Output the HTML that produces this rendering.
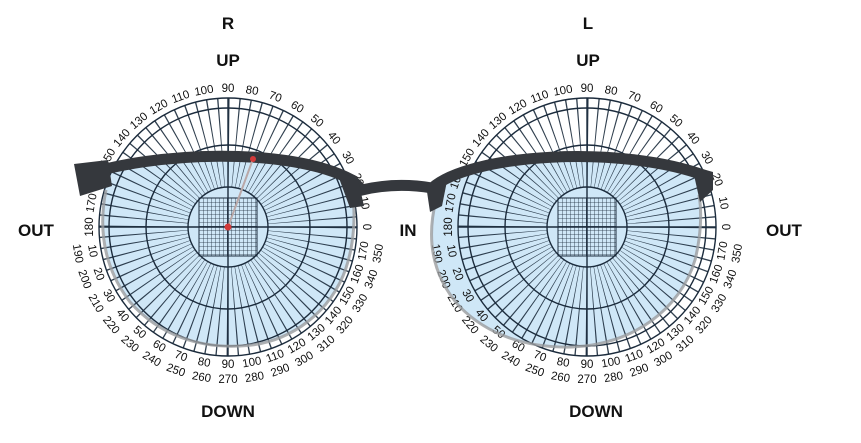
<!DOCTYPE html>
<html><head><meta charset="utf-8"><style>
html,body{margin:0;padding:0;background:#fff;}
svg{display:block;}
text{font-family:"Liberation Sans",sans-serif;}
.l text{font-size:11.5px;text-anchor:middle;dominant-baseline:central;fill:#111;}
.b{font-weight:bold;font-size:17px;text-anchor:middle;fill:#111;}
</style></head><body>
<svg width="861" height="443" viewBox="0 0 861 443" xmlns="http://www.w3.org/2000/svg">
<defs>
<pattern id="grid" x="-29" y="-29" width="4" height="4" patternUnits="userSpaceOnUse">
<path d="M0,0H4M0,0V4" stroke="#1b2b3c" stroke-width="0.8" fill="none"/>
</pattern>
<g id="eye">
<circle r="84.5" fill="none" stroke="#1b2b3c" stroke-width="89" stroke-dasharray="0.9 6.474" opacity="0.9"/>
<g fill="none" stroke="#1b2b3c" stroke-width="1.4">
<circle r="129"/><circle r="119"/><circle r="82"/><circle r="40"/>
<line x1="-129" y1="0" x2="129" y2="0"/><line x1="0" y1="-129" x2="0" y2="129"/>
</g>
<rect x="-29" y="-29" width="58" height="58" fill="url(#grid)" stroke="#1b2b3c" stroke-width="1"/>
<g class="l">
<text transform="rotate(90)" y="-138">0</text>
<text transform="rotate(80)" y="-138">10</text>
<text transform="rotate(70)" y="-138">20</text>
<text transform="rotate(60)" y="-138">30</text>
<text transform="rotate(50)" y="-138">40</text>
<text transform="rotate(40)" y="-138">50</text>
<text transform="rotate(30)" y="-138">60</text>
<text transform="rotate(20)" y="-138">70</text>
<text transform="rotate(10)" y="-138">80</text>
<text transform="rotate(0)" y="-138">90</text>
<text transform="rotate(-10)" y="-138">100</text>
<text transform="rotate(-20)" y="-138">110</text>
<text transform="rotate(-30)" y="-138">120</text>
<text transform="rotate(-40)" y="-138">130</text>
<text transform="rotate(-50)" y="-138">140</text>
<text transform="rotate(-60)" y="-138">150</text>
<text transform="rotate(-70)" y="-138">160</text>
<text transform="rotate(-80)" y="-138">170</text>
<text transform="rotate(-90)" y="-138">180</text>
<text transform="rotate(80)" y="138">10</text>
<text transform="rotate(70)" y="138">20</text>
<text transform="rotate(60)" y="138">30</text>
<text transform="rotate(50)" y="138">40</text>
<text transform="rotate(40)" y="138">50</text>
<text transform="rotate(30)" y="138">60</text>
<text transform="rotate(20)" y="138">70</text>
<text transform="rotate(10)" y="138">80</text>
<text transform="rotate(0)" y="138">90</text>
<text transform="rotate(-10)" y="138">100</text>
<text transform="rotate(-20)" y="138">110</text>
<text transform="rotate(-30)" y="138">120</text>
<text transform="rotate(-40)" y="138">130</text>
<text transform="rotate(-50)" y="138">140</text>
<text transform="rotate(-60)" y="138">150</text>
<text transform="rotate(-70)" y="138">160</text>
<text transform="rotate(-80)" y="138">170</text>
<text transform="rotate(80)" y="153">190</text>
<text transform="rotate(70)" y="153">200</text>
<text transform="rotate(60)" y="153">210</text>
<text transform="rotate(50)" y="153">220</text>
<text transform="rotate(40)" y="153">230</text>
<text transform="rotate(30)" y="153">240</text>
<text transform="rotate(20)" y="153">250</text>
<text transform="rotate(10)" y="153">260</text>
<text transform="rotate(0)" y="153">270</text>
<text transform="rotate(-10)" y="153">280</text>
<text transform="rotate(-20)" y="153">290</text>
<text transform="rotate(-30)" y="153">300</text>
<text transform="rotate(-40)" y="153">310</text>
<text transform="rotate(-50)" y="153">320</text>
<text transform="rotate(-60)" y="153">330</text>
<text transform="rotate(-70)" y="153">340</text>
<text transform="rotate(-80)" y="153">350</text>
</g>
</g>
</defs>

<path d="M108,165 C98,205 100,262 130,302 C160,336 200,348 240,346 C292,344 332,310 346,268 C356,238 356,200 350,180 C290,152 170,150 108,165 Z" fill="#cfe7f7"/>
<path d="M440,176 C425,222 430,272 460,307 C490,337 530,348 572,347 C632,345 680,310 695,260 C703,230 701,200 695,172 C630,150 500,150 440,176 Z" fill="#cfe7f7"/>

<use href="#eye" transform="translate(228,227)"/>
<use href="#eye" transform="translate(587,227)"/>

<path d="M106,190 C98,230 104,268 130,302 C160,336 200,348 240,346 C292,344 332,310 346,268 C354,244 356,215 352,190" fill="none" stroke="#9a9c9f" stroke-width="3" opacity="0.8"/>
<path d="M436,200 C426,240 432,276 460,307 C490,337 530,348 572,347 C632,345 680,310 695,260 C701,236 702,212 699,195" fill="none" stroke="#9a9c9f" stroke-width="3" opacity="0.8"/>

<path d="M82,176 C150,152 290,146 352,180 L362,190 Q396,182 432,188 C470,154 620,144 706,176" fill="none" stroke="#35383d" stroke-width="11"/>
<polygon points="74,164 108,160 112,186 80,196" fill="#35383d"/>
<polygon points="336,170 358,180 364,206 350,208" fill="#35383d"/>
<polygon points="426,185 448,176 442,206 430,212" fill="#35383d"/>
<polygon points="692,166 713,172 713,190 700,202" fill="#35383d"/>

<line x1="228" y1="227" x2="253" y2="159" stroke="#b9a8a8" stroke-width="2"/>
<circle cx="228" cy="227" r="3.5" fill="#d23a3a"/>
<circle cx="253" cy="159" r="3" fill="#d23a3a"/>

<text class="b" x="228" y="29">R</text>
<text class="b" x="228" y="66">UP</text>
<text class="b" x="588" y="29">L</text>
<text class="b" x="588" y="66">UP</text>
<text class="b" x="36" y="236">OUT</text>
<text class="b" x="408" y="236">IN</text>
<text class="b" x="784" y="236">OUT</text>
<text class="b" x="228" y="417">DOWN</text>
<text class="b" x="596" y="417">DOWN</text>
</svg>
</body></html>
